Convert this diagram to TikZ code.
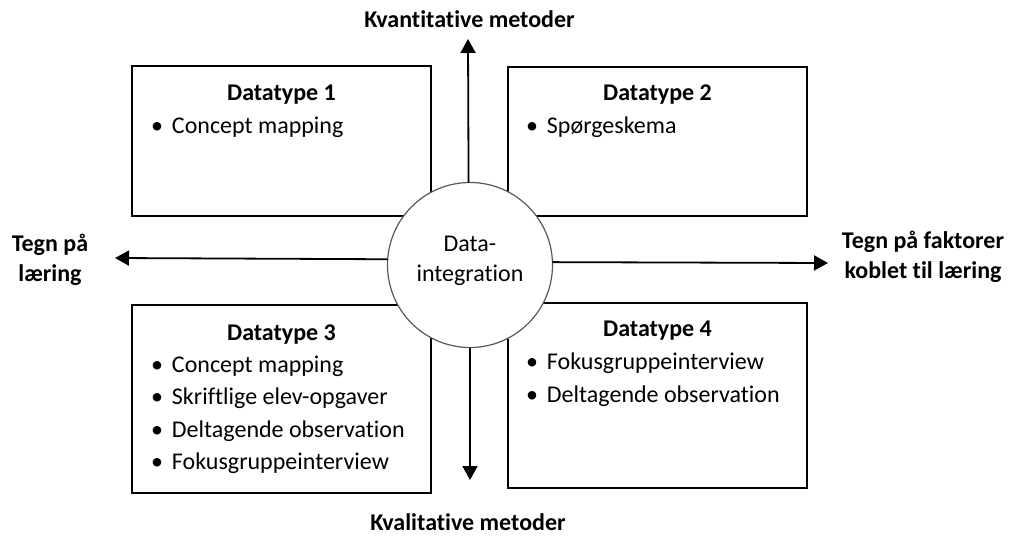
\documentclass[tikz,border=0pt]{standalone}
\usepackage{fontspec}
\setmainfont{Carlito}[Ligatures=NoCommon]
\usetikzlibrary{arrows.meta}
\begin{document}
\begin{tikzpicture}[x=1pt,y=-1pt,
  every node/.style={inner sep=0pt, outer sep=0pt, font=\fontsize{24}{30}\selectfont},
  databox/.style={draw=black, line width=2pt, minimum width=299pt},
  hub/.style={circle, draw=black!65, fill=white, line width=1.2pt, minimum size=165pt},
  arr/.style={line width=1.8pt, -{Triangle[length=14pt,width=15pt]}},
  boldtext/.style={font=\fontsize{24}{30}\selectfont\bfseries},
  boxtitle/.style={anchor=base, boldtext},
  entry/.style={anchor=base west},
  axislabel/.style={align=center, boldtext}]
\useasboundingbox (0,0) rectangle (1009,536);

% the four data boxes
\node[databox, minimum height=150pt] (b1) at (281.5,141) {};
\node[databox, minimum height=149pt] (b2) at (657.5,141.5) {};
\node[databox, minimum height=188pt] (b3) at (281.5,399) {};
\node[databox, minimum height=185pt] (b4) at (657.5,395.5) {};

% box contents
\newcommand{\bp}{\llap{\makebox[30pt]{•}}}
\node[boxtitle] (t1) at (281.5,100) {Datatype 1};
\node[entry] (i11) at (172,133) {\bp Concept mapping};

\node[boxtitle] (t2) at (657.5,100) {Datatype 2};
\node[entry] (i21) at (547,133) {\bp Spørgeskema};

\node[boxtitle] (t3) at (281.5,340) {Datatype 3};
\node[entry] (i31) at (172,372) {\bp Concept mapping};
\node[entry] (i32) at (172,404) {\bp Skriftlige elev-opgaver};
\node[entry] (i33) at (172,437) {\bp Deltagende observation};
\node[entry] (i34) at (172,469) {\bp Fokusgruppeinterview};

\node[boxtitle] (t4) at (657.5,336) {Datatype 4};
\node[entry] (i41) at (547,369) {\bp Fokusgruppeinterview};
\node[entry] (i42) at (547,402) {\bp Deltagende observation};

% arrow tips
\coordinate (up) at (468,39);
\coordinate (down) at (470,480);
\coordinate (left) at (115,258);
\coordinate (right) at (828,263);

% central hub
\node[hub] (c) at (470,265) {};
\node[align=center] (ct) at (470,260) {\strut Data-\\\strut integration};

\draw[arr] (c.91) -- (up);
\draw[arr] (c.270) -- (down);
\draw[arr] (c.176.5) -- (left);
\draw[arr] (c.2.8) -- (right);

% axis labels
\node[anchor=base, boldtext] (kvant) at (469.5,27) {Kvantitative metoder};
\node[anchor=base, boldtext] (kval) at (468,530) {Kvalitative metoder};
\node[axislabel] (lt) at (50,260) {\strut Tegn på\\\strut læring};
\node[axislabel] (rt) at (923,257) {\strut Tegn på faktorer\\\strut koblet til læring};
\end{tikzpicture}
\end{document}
